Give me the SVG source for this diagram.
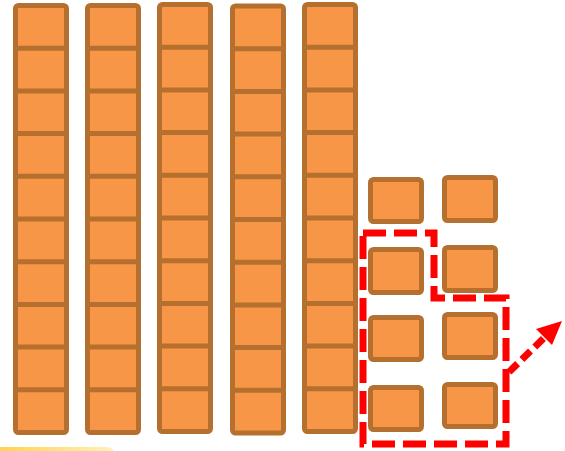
<svg xmlns="http://www.w3.org/2000/svg" xmlns:xlink="http://www.w3.org/1999/xlink" width="565" height="451" viewBox="0 0 565 451">
<style>
.blk{fill:#F79646;stroke:#B5702F;stroke-width:5;stroke-linejoin:round}
.div{stroke:#B5702F;stroke-width:5}
.sel{fill:none;stroke:#FF0000;stroke-width:7;stroke-dasharray:23 8}
.arr{fill:none;stroke:#FF0000;stroke-width:7;stroke-dasharray:12 6}
</style>
<defs>
<g id="column">
<rect class="blk" x="0" y="0" width="51" height="427" rx="3"/>
<path class="div" d="M0,42.7H51M0,85.4H51M0,128.1H51M0,170.8H51M0,213.5H51M0,256.2H51M0,298.9H51M0,341.6H51M0,384.3H51"/>
</g>
<linearGradient id="yg" x1="0" y1="0" x2="1" y2="0">
<stop offset="0" stop-color="#FFD24D"/>
<stop offset="1" stop-color="#FFF1B8"/>
</linearGradient>
</defs>
<path d="M-5,451 V452 L-5,447 H104 Q112,447 114,451 Z" fill="url(#yg)"/>
<g id="ten1"><use xlink:href="#column" transform="translate(15.5,5.5)"/></g>
<g id="ten2"><use xlink:href="#column" transform="translate(87.5,5.5)"/></g>
<g id="ten3"><use xlink:href="#column" transform="translate(159.5,4.5)"/></g>
<g id="ten4"><use xlink:href="#column" transform="translate(232.5,6)"/></g>
<g id="ten5"><use xlink:href="#column" transform="translate(304.5,4.5)"/></g>
<g id="one1"><rect class="blk" x="370.5" y="179.5" width="51" height="42" rx="3"/></g>
<g id="one2"><rect class="blk" x="444.5" y="177.5" width="51" height="43" rx="3"/></g>
<g id="one3"><rect class="blk" x="370.5" y="249.5" width="51" height="43" rx="3"/></g>
<g id="one4"><rect class="blk" x="444.5" y="247.5" width="51" height="43" rx="3"/></g>
<g id="one5"><rect class="blk" x="370.5" y="317.5" width="51" height="42" rx="3"/></g>
<g id="one6"><rect class="blk" x="444.5" y="314.5" width="51" height="43" rx="3"/></g>
<g id="one7"><rect class="blk" x="370.5" y="387.5" width="51" height="42" rx="3"/></g>
<g id="one8"><rect class="blk" x="444.5" y="384.5" width="51" height="42" rx="3"/></g>
<g id="connectors">
<path class="sel" d="M363,233 H434 V298 H506 V444 H363 Z"/>
<line class="arr" x1="509" y1="372" x2="546" y2="336"/>
<polygon points="562,321 536,329 552,345" fill="#FF0000"/>
</g>
</svg>
